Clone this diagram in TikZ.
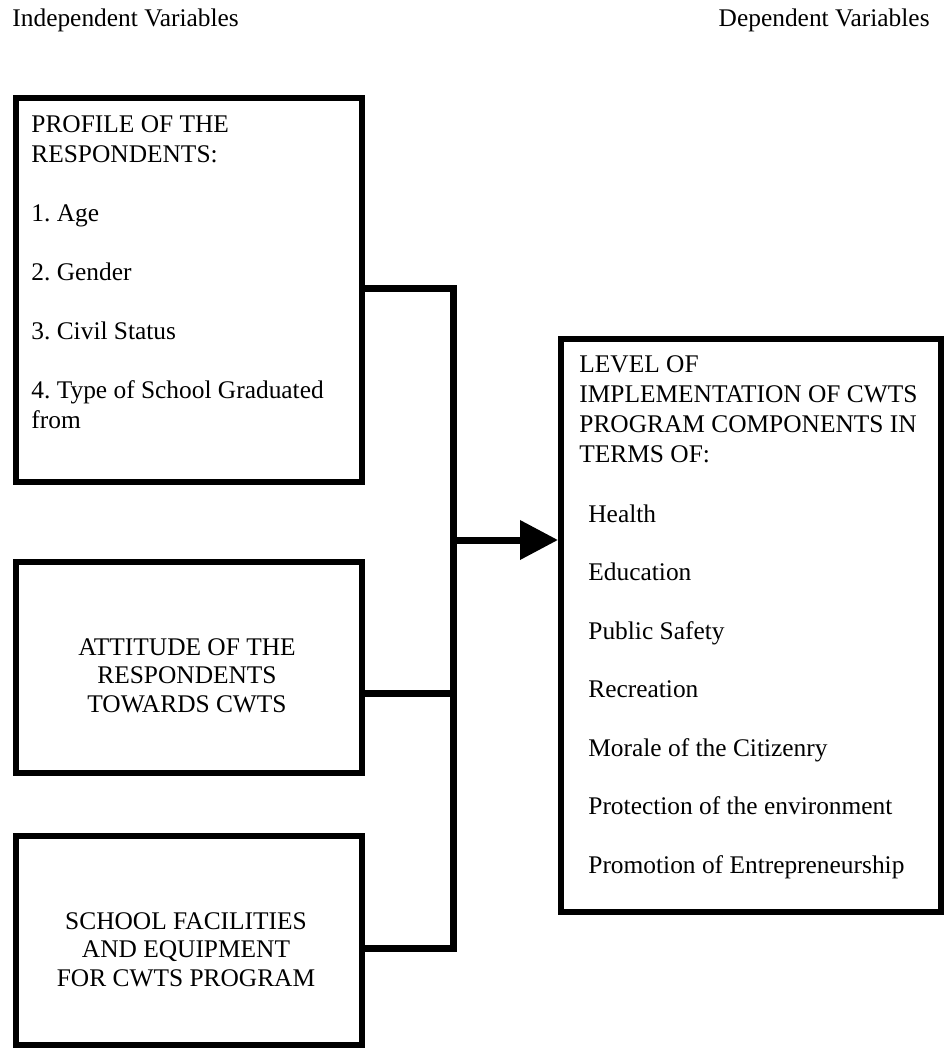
\documentclass[tikz,border=0pt]{standalone}
\usepackage{fontspec}
\setmainfont{Liberation Serif}
\usetikzlibrary{arrows.meta}
\frenchspacing
\begin{document}
\begin{tikzpicture}[x=0.5pt,y=-0.5pt,line cap=butt,line join=miter,
	box/.style={draw,line width=3pt,inner sep=0pt},
	link/.style={line width=3.5pt},
	txt/.style={inner sep=0pt,font=\fontsize{12.7}{15}\selectfont},
	ctxt/.style={txt,align=center,font=\fontsize{12.7}{14.25}\selectfont}]
	\useasboundingbox (0,0) rectangle (944,1048);
	
	\node[txt,anchor=base west] (indep) at (12,27) {Independent Variables};
	\node[txt,anchor=base east] (dep) at (930,27) {Dependent Variables};
	
	% left column
	\node[box,minimum width=173pt,minimum height=192pt] (profile) at (189,290) {};
	\node[txt,anchor=north west,align=left] (profiletxt) at (31,115) {PROFILE OF THE\\RESPONDENTS:\\[14.5pt]
		1. Age\\[14.5pt]2. Gender\\[14.5pt]3. Civil Status\\[14.5pt]4. Type of School Graduated\\from};
	
	\node[box,minimum width=173pt,minimum height=105.5pt] (attitude) at (189,667.5) {};
	\node[ctxt,anchor=north] (attitudetxt) at (187,638) {ATTITUDE OF THE\\RESPONDENTS\\TOWARDS CWTS};
	
	\node[box,minimum width=173pt,minimum height=104.5pt] (facilities) at (189,940.5) {};
	\node[ctxt,anchor=north] (facilitiestxt) at (186,912) {SCHOOL FACILITIES\\AND EQUIPMENT\\FOR CWTS PROGRAM};
	
	% right box
	\node[box,minimum width=190pt,minimum height=286.5pt] (level) at (751,625.5) {};
	\node[txt,anchor=north west,align=left] (leveltxt) at (579,355) {LEVEL OF\\IMPLEMENTATION OF CWTS\\PROGRAM COMPONENTS IN\\TERMS OF:\\[15pt]
		\hspace*{4.5pt}Health\\[14.25pt]\hspace*{4.5pt}Education\\[14.25pt]\hspace*{4.5pt}Public Safety\\[14.25pt]\hspace*{4.5pt}Recreation\\[14.25pt]
		\hspace*{4.5pt}Morale of the Citizenry\\[14.25pt]\hspace*{4.5pt}Protection of the environment\\[14.25pt]\hspace*{4.5pt}Promotion of Entrepreneurship};
	
	% bus and arrow
	\coordinate (j1) at (453,288);
	\coordinate (j2) at (453,693);
	\coordinate (j3) at (453,948);
	\coordinate (jout) at (453,540);
	\draw[link] (profile.east |- j1) -- (j1) -- (j3) -- (facilities.east |- j3);
	\draw[link] (attitude.east |- j2) -- (j2);
	\draw[link,-{Triangle[length=19pt,width=19pt]}] (jout) -- (level.west |- jout);
	
\end{tikzpicture}
\end{document}
